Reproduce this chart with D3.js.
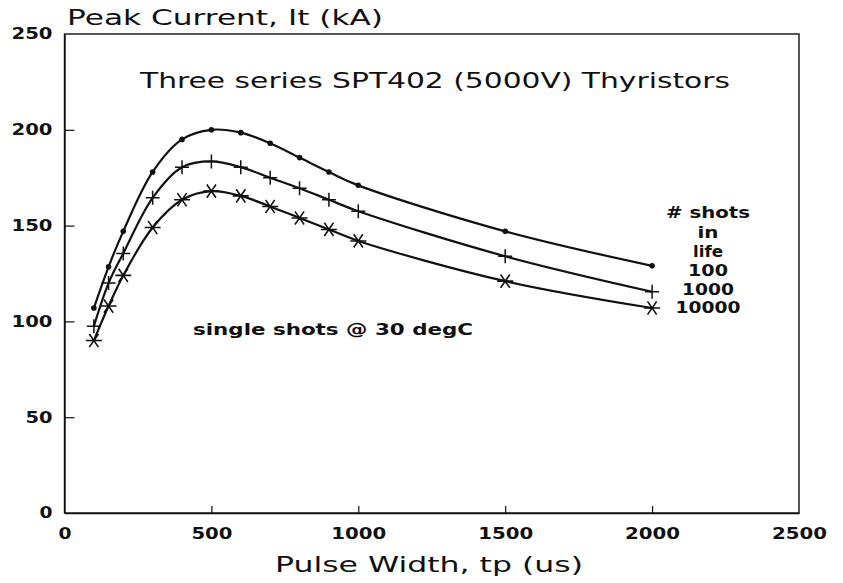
<!DOCTYPE html>
<html>
<head>
<meta charset="utf-8">
<script src="https://cdn.jsdelivr.net/npm/d3@7"></script>
<style>
  body { margin: 0; background: #fff; }
  text { fill: #111; }
</style>
</head>
<body>
<div id="chart"></div>
<script>
// 1: DATA
const pulseWidths = [100, 150, 200, 300, 400, 500, 600, 700, 800, 900, 1000, 1500, 2000];
const shots100 = [107, 128.5, 147, 178, 195, 200, 198.5, 193, 185.5, 178, 171, 147, 129];
const shots1000 = [97.5, 120, 135.5, 164.5, 180.5, 183.5, 180.5, 175, 169.5, 163.5, 157.5, 134, 115.5];
const shots10000 = [90, 108, 124, 149, 163.5, 168, 165.5, 160, 154, 148, 142, 121, 107];
const xTicks = [0, 500, 1000, 1500, 2000, 2500];
const yTicks = [0, 50, 100, 150, 200, 250];
const legendLines = ["# shots", "in", "life", "100", "1000", "10000"];

// 2: GLOBALS
const W = 843, H = 583;
const margin = { top: 34, right: 44, bottom: 70, left: 64.5 };
const width = W - margin.left - margin.right;
const height = H - margin.top - margin.bottom;
const font = "'DejaVu Sans', sans-serif";

const svg = d3.select("#chart")
    .append("svg")
    .attr("width", W)
    .attr("height", H)
    .style("font-family", font);

const g = svg.append("g")
    .attr("transform", `translate(${margin.left},${margin.top})`);

// 3: SCALES
const xScale = d3.scaleLinear().domain([0, 2500]).range([0, width]);
const yScale = d3.scaleLinear().domain([0, 250]).range([height, 0]);

// stretch text to a given width, the original font is an extended one
function stretch(sel, w) {
    sel.attr("textLength", w).attr("lengthAdjust", "spacingAndGlyphs");
}

// 4: AXES + FRAME
g.append("rect")
    .attr("width", width)
    .attr("height", height)
    .attr("fill", "none")
    .attr("stroke", "#111")
    .attr("stroke-width", 1.4);

const xAxis = g.append("g")
    .attr("transform", `translate(0,${height})`)
    .call(d3.axisBottom(xScale).tickValues(xTicks).tickFormat(d3.format("d"))
        .tickSize(-7).tickSizeOuter(0).tickPadding(15));

const yAxis = g.append("g")
    .call(d3.axisLeft(yScale).tickValues(yTicks).tickFormat(d3.format("d"))
        .tickSize(-10).tickSizeOuter(0).tickPadding(12));

[xAxis, yAxis].forEach(ax => {
    ax.select(".domain").attr("stroke", "#111").attr("stroke-width", 1.4);
    ax.selectAll(".tick line").attr("stroke", "#111").attr("stroke-width", 1.2);
    ax.selectAll(".tick text")
        .attr("font-family", font)
        .attr("font-size", 15)
        .attr("font-weight", "bold")
        .attr("fill", "#111")
        .each(function(d) { stretch(d3.select(this), String(d).length * 14 - 1); });
});
// hide the inner ticks sitting on the frame corners
xAxis.selectAll(".tick").filter(d => d === 0 || d === 2500).select("line").remove();
yAxis.selectAll(".tick").filter(d => d === 0 || d === 250).select("line").remove();

// 5: CURVES
const series = [
    { name: "100", values: shots100, marker: "dot" },
    { name: "1000", values: shots1000, marker: "plus" },
    { name: "10000", values: shots10000, marker: "star" }
];

const line = d3.line()
    .x(d => xScale(d.x))
    .y(d => yScale(d.y))
    .curve(d3.curveCatmullRom.alpha(0.5));

series.forEach(s => {
    const pts = pulseWidths.map((x, i) => ({ x, y: s.values[i] }));

    g.append("path")
        .datum(pts)
        .attr("fill", "none")
        .attr("stroke", "#111")
        .attr("stroke-width", 2.2)
        .attr("d", line);

    const m = g.selectAll(null)
        .data(pts)
        .enter()
        .append("g")
        .attr("transform", d => `translate(${xScale(d.x)},${yScale(d.y)})`);

    if (s.marker === "dot") {
        m.append("circle").attr("r", 2.8).attr("fill", "#111");
    } else if (s.marker === "plus") {
        m.append("path")
            .attr("d", "M-7,0H7M0,-7V7")
            .attr("stroke", "#111")
            .attr("stroke-width", 1.5);
    } else {
        m.append("path")
            .attr("d", "M-8,0H8M-4.6,-6.6L4.6,6.6M-4.6,6.6L4.6,-6.6")
            .attr("stroke", "#111")
            .attr("stroke-width", 1.6);
    }
});

// 6: LABELS
svg.append("text")
    .attr("x", 67).attr("y", 25)
    .attr("font-size", 21)
    .text("Peak Current, It (kA)")
    .call(stretch, 316);

svg.append("text")
    .attr("x", 140).attr("y", 88)
    .attr("font-size", 21)
    .text("Three series SPT402 (5000V) Thyristors")
    .call(stretch, 590);

svg.append("text")
    .attr("x", 193).attr("y", 335)
    .attr("font-size", 16)
    .attr("font-weight", "bold")
    .text("single shots @ 30 degC")
    .call(stretch, 280);

svg.append("text")
    .attr("x", 275).attr("y", 572)
    .attr("font-size", 21)
    .text("Pulse Width, tp (us)")
    .call(stretch, 308);

// 7: LEGEND (text column at the right)
const legendY = [218, 238, 257, 276, 295, 313];
const legendW = [84, 21, 30, 40, 52, 65];
svg.selectAll(".legend")
    .data(legendLines)
    .enter()
    .append("text")
    .attr("class", "legend")
    .attr("x", 708)
    .attr("y", (d, i) => legendY[i])
    .attr("text-anchor", "middle")
    .attr("font-size", 15)
    .attr("font-weight", "bold")
    .text(d => d)
    .each(function(d, i) { stretch(d3.select(this), legendW[i]); });
</script>
</body>
</html>
